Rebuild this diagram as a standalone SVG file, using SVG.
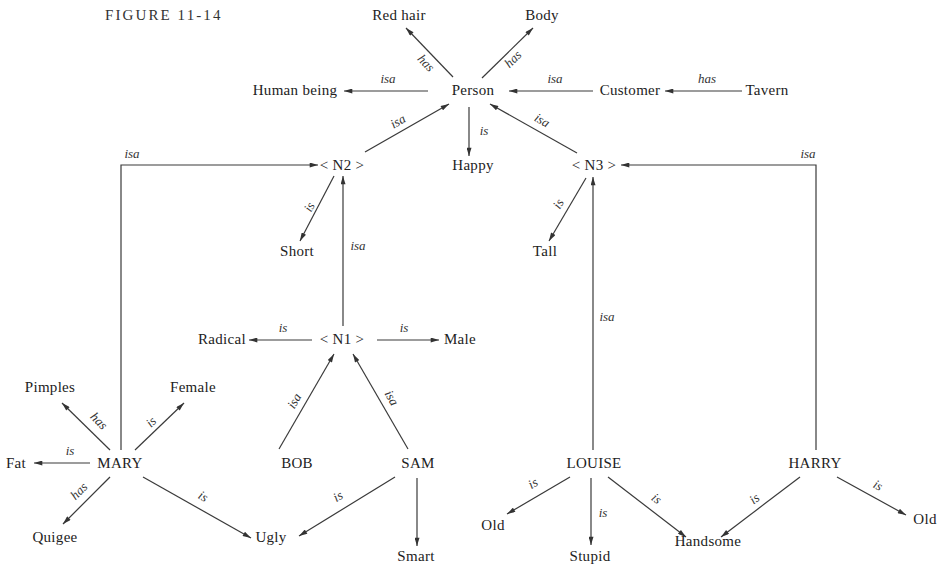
<svg xmlns="http://www.w3.org/2000/svg" width="942" height="572" viewBox="0 0 942 572">
  <style>
    .n { font-family: "Liberation Serif", "Times New Roman", serif; font-size: 15px; fill: #222; text-anchor: middle; letter-spacing: 0.3px; }
    .t { font-family: "Liberation Serif", "Times New Roman", serif; font-size: 15px; fill: #333; letter-spacing: 2.1px; }
    .l { font-family: "Liberation Serif", "Times New Roman", serif; font-size: 13px; font-style: italic; fill: #333; text-anchor: middle; }
    .e { stroke: #3a3a3a; stroke-width: 1.2; fill: none; marker-end: url(#ah); }
  </style>
  <defs>
    <marker id="ah" viewBox="0 0 10 6" refX="10" refY="3" markerUnits="userSpaceOnUse" markerWidth="9" markerHeight="5" orient="auto">
      <path d="M0,0 L10,3 L0,6 Z" fill="#333"/>
    </marker>
  </defs>
  <rect width="942" height="572" fill="#fff"/>

  <text class="t" x="105" y="20">FIGURE 11-14</text>

  <!-- nodes -->
  <g id="red-hair"><text class="n" x="399" y="20">Red hair</text></g>
  <g id="body"><text class="n" x="542" y="20">Body</text></g>
  <g id="person"><text class="n" x="473" y="95">Person</text></g>
  <g id="human-being"><text class="n" x="295" y="95">Human being</text></g>
  <g id="customer"><text class="n" x="630" y="95">Customer</text></g>
  <g id="tavern"><text class="n" x="767" y="95">Tavern</text></g>
  <g id="happy"><text class="n" x="473" y="170">Happy</text></g>
  <g id="n2"><text class="n" x="342" y="170">&lt; N2 &gt;</text></g>
  <g id="n3"><text class="n" x="594" y="170">&lt; N3 &gt;</text></g>
  <g id="short"><text class="n" x="297" y="256">Short</text></g>
  <g id="tall"><text class="n" x="545" y="256">Tall</text></g>
  <g id="n1"><text class="n" x="342" y="344">&lt; N1 &gt;</text></g>
  <g id="radical"><text class="n" x="222" y="344">Radical</text></g>
  <g id="male"><text class="n" x="460" y="344">Male</text></g>
  <g id="pimples"><text class="n" x="50" y="392">Pimples</text></g>
  <g id="female"><text class="n" x="193" y="392">Female</text></g>
  <g id="mary"><text class="n" x="120" y="468">MARY</text></g>
  <g id="fat"><text class="n" x="16" y="468">Fat</text></g>
  <g id="bob"><text class="n" x="297" y="468">BOB</text></g>
  <g id="sam"><text class="n" x="418" y="468">SAM</text></g>
  <g id="quigee"><text class="n" x="55" y="542">Quigee</text></g>
  <g id="ugly"><text class="n" x="271" y="542">Ugly</text></g>
  <g id="smart"><text class="n" x="416" y="561">Smart</text></g>
  <g id="louise"><text class="n" x="594" y="468">LOUISE</text></g>
  <g id="harry"><text class="n" x="815" y="468">HARRY</text></g>
  <g id="old-1"><text class="n" x="493" y="530">Old</text></g>
  <g id="stupid"><text class="n" x="590" y="561">Stupid</text></g>
  <g id="handsome"><text class="n" x="708" y="546">Handsome</text></g>
  <g id="old-2"><text class="n" x="925" y="524">Old</text></g>

  <!-- connectors -->
  <g id="connectors">
    <line class="e" x1="453" y1="77" x2="406" y2="28"/>
    <text class="l" transform="translate(423,66) rotate(46)">has</text>
    <line class="e" x1="482" y1="78" x2="533" y2="28"/>
    <text class="l" transform="translate(516,62) rotate(-45)">has</text>

    <line class="e" x1="428" y1="91" x2="344" y2="91"/>
    <text class="l" x="388" y="83">isa</text>
    <line class="e" x1="593" y1="91" x2="509" y2="91"/>
    <text class="l" x="555" y="83">isa</text>
    <line class="e" x1="742" y1="91" x2="665" y2="91"/>
    <text class="l" x="707" y="83">has</text>

    <line class="e" x1="469" y1="107" x2="469" y2="156"/>
    <text class="l" x="484" y="135">is</text>

    <line class="e" x1="365" y1="152" x2="449" y2="104"/>
    <text class="l" transform="translate(400,125) rotate(-30)">isa</text>
    <line class="e" x1="577" y1="153" x2="490" y2="104"/>
    <text class="l" transform="translate(540,124) rotate(30)">isa</text>

    <polyline class="e" points="121,450 121,165 318,165"/>
    <text class="l" x="132" y="158">isa</text>
    <polyline class="e" points="816,450 816,165 621,165"/>
    <text class="l" x="808" y="158">isa</text>

    <line class="e" x1="334" y1="176" x2="300" y2="241"/>
    <text class="l" transform="translate(313,209) rotate(-62)">is</text>
    <line class="e" x1="343" y1="326" x2="343" y2="176"/>
    <text class="l" x="358" y="250">isa</text>

    <line class="e" x1="312" y1="340" x2="249" y2="340"/>
    <text class="l" x="283" y="332">is</text>
    <line class="e" x1="377" y1="340" x2="439" y2="340"/>
    <text class="l" x="404" y="332">is</text>

    <line class="e" x1="279" y1="449" x2="334" y2="354"/>
    <text class="l" transform="translate(298,403) rotate(-60)">isa</text>
    <line class="e" x1="408" y1="449" x2="353" y2="354"/>
    <text class="l" transform="translate(388,400) rotate(60)">isa</text>

    <line class="e" x1="110" y1="450" x2="62" y2="403"/>
    <text class="l" transform="translate(96,424) rotate(45)">has</text>
    <line class="e" x1="135" y1="450" x2="184" y2="403"/>
    <text class="l" transform="translate(154,425) rotate(-45)">is</text>
    <line class="e" x1="90" y1="463" x2="34" y2="463"/>
    <text class="l" x="70" y="455">is</text>
    <line class="e" x1="110" y1="477" x2="63" y2="524"/>
    <text class="l" transform="translate(82,494) rotate(-45)">has</text>
    <line class="e" x1="143" y1="477" x2="251" y2="538"/>
    <text class="l" transform="translate(201,500) rotate(30)">is</text>

    <line class="e" x1="395" y1="477" x2="299" y2="536"/>
    <text class="l" transform="translate(340,500) rotate(-30)">is</text>
    <line class="e" x1="417" y1="478" x2="417" y2="546"/>

    <line class="e" x1="593" y1="450" x2="593" y2="177"/>
    <text class="l" x="607" y="321">isa</text>
    <line class="e" x1="586" y1="178" x2="549" y2="241"/>
    <text class="l" transform="translate(562,206) rotate(-60)">is</text>

    <line class="e" x1="570" y1="477" x2="507" y2="514"/>
    <text class="l" transform="translate(535,487) rotate(-30)">is</text>
    <line class="e" x1="591" y1="478" x2="591" y2="545"/>
    <text class="l" x="603" y="517">is</text>
    <line class="e" x1="608" y1="477" x2="686" y2="537"/>
    <text class="l" transform="translate(654,502) rotate(38)">is</text>
    <line class="e" x1="800" y1="477" x2="721" y2="537"/>
    <text class="l" transform="translate(757,502) rotate(-38)">is</text>
    <line class="e" x1="837" y1="477" x2="906" y2="515"/>
    <text class="l" transform="translate(876,489) rotate(28)">is</text>
  </g>
</svg>
